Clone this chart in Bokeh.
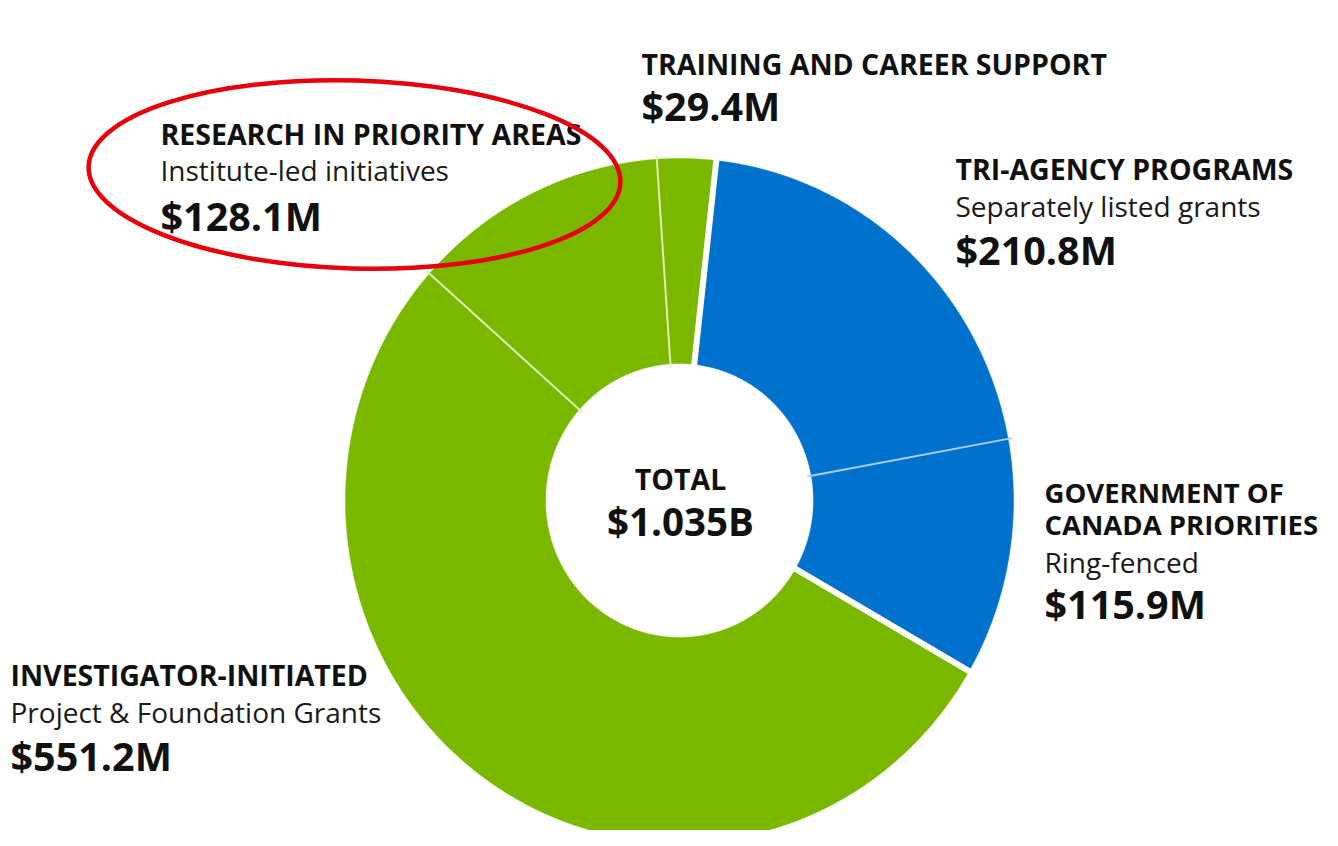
import numpy as np
from bokeh.plotting import figure
from bokeh.models import Range1d, ColumnDataSource
from bokeh.core.properties import value
from bokeh.embed import file_html
from bokeh.resources import INLINE

# ---------------- data ----------------
categories = ["TRAINING AND CAREER SUPPORT", "TRI-AGENCY PROGRAMS",
              "GOVERNMENT OF CANADA PRIORITIES", "INVESTIGATOR-INITIATED",
              "RESEARCH IN PRIORITY AREAS"]
subtitles = ["", "Separately listed grants", "Ring-fenced",
             "Project & Foundation Grants", "Institute-led initiatives"]
values_m = [29.4, 210.8, 115.9, 551.2, 128.1]
groups = ["green", "blue", "blue", "green", "green"]
total_title = "TOTAL"
total_value = "$1.035B"

# ---------------- style / layout ----------------
GREEN = "#7AB800"
BLUE = "#0072CE"
colors = {"green": GREEN, "blue": BLUE}
FONT = value("Open Sans")
INK = "#111111"

W, H = 1322, 830
def Y(yref):  # reference pixel row -> data y
    return 846 - yref

p = figure(width=W, height=H, output_backend="svg", toolbar_location=None,
           x_range=Range1d(0, W), y_range=Range1d(Y(H), Y(0)),
           min_border=0, outline_line_color=None)
p.axis.visible = False
p.grid.visible = False
p.background_fill_color = "white"
p.border_fill_color = "white"

# donut geometry (slightly elliptical like the reference)
cx, cy = 679, Y(500)
R_h, R_v = 334, 342
r_h, r_v = 134, 137
start_deg = -3.9  # clockwise from top

vals = np.array(values_m)
spans = vals / vals.sum() * 360.0
ends = start_deg + np.cumsum(spans)
starts = ends - spans

xs, ys, fills = [], [], []
for s, e, g in zip(starts, ends, groups):
    t = np.radians(np.linspace(s, e, max(8, int((e - s) * 2))))
    ox = cx + R_h * np.sin(t); oy = cy + R_v * np.cos(t)
    ix = cx + r_h * np.sin(t[::-1]); iy = cy + r_v * np.cos(t[::-1])
    xs.append(list(np.concatenate([ox, ix])))
    ys.append(list(np.concatenate([oy, iy])))
    fills.append(colors[g])
p.patches(xs, ys, fill_color=fills, line_color=fills, line_width=0.5)

# separators
for i, b in enumerate(starts):
    prev_g = groups[i - 1]
    cur_g = groups[i]
    t = np.radians(b)
    x0 = cx + (r_h - 4) * np.sin(t); y0 = cy + (r_v - 4) * np.cos(t)
    x1 = cx + (R_h + 4) * np.sin(t); y1 = cy + (R_v + 4) * np.cos(t)
    if prev_g != cur_g:
        col, lw = "white", 6
    elif cur_g == "green":
        col, lw = "#DDEEB8", 2
    else:
        col, lw = "#A9D0F2", 2
    p.segment(x0=[x0], y0=[y0], x1=[x1], y1=[y1], line_color=col, line_width=lw)

# ---------------- labels ----------------
# left x, vertical centres of heading lines, subtitle, value (reference px)
layout = [
    dict(x=641, heads=[63], sub=None, val=105, hs=28.5),
    dict(x=955, heads=[168], sub=205, val=249, hs=28.5),
    dict(x=1044, heads=[492, 524], sub=561, val=603, hs=27.5),
    dict(x=10, heads=[674], sub=711, val=755, hs=28.5),
    dict(x=160, heads=[133], sub=169, val=215, hs=28.5),
]
head_lines = [[categories[0]], [categories[1]],
              ["GOVERNMENT OF", "CANADA PRIORITIES"],
              [categories[3]], [categories[4]]]

def off(fs):  # renderer offset between given y and text centre
    return 0.04 * fs

hx, hy, ht, hf = [], [], [], []
sx, sy, st = [], [], []
vx, vy, vt = [], [], []
for i, lay in enumerate(layout):
    for line, c in zip(head_lines[i], lay["heads"]):
        hx.append(lay["x"]); hy.append(Y(c)); ht.append(line)
        hf.append(f"{lay['hs']}px")
    if subtitles[i]:
        sx.append(lay["x"]); sy.append(Y(lay["sub"])); st.append(subtitles[i])
    vx.append(lay["x"]); vy.append(Y(lay["val"])); vt.append(f"${values_m[i]:.1f}M")

hsrc = ColumnDataSource(dict(x=hx, y=hy, text=ht, fs=hf))
p.text(x="x", y="y", text="text", source=hsrc, text_font=FONT,
       text_font_style="bold", text_font_size="fs", text_color=INK,
       text_align="left", text_baseline="middle")
p.text(x=sx, y=sy, text=st, text_font=FONT, text_font_size="28px",
       text_color="#1a1a1a", text_align="left", text_baseline="middle")
p.text(x=vx, y=vy, text=vt, text_font=FONT, text_font_style="bold",
       text_font_size="39.5px", text_color=INK, text_align="left",
       text_baseline="middle")

p.text(x=[680], y=[Y(478)], text=[total_title], text_font=FONT,
       text_font_style="bold", text_font_size="28.5px", text_color=INK,
       text_align="center", text_baseline="middle")
p.text(x=[680], y=[Y(520)], text=[total_value], text_font=FONT,
       text_font_style="bold", text_font_size="38.5px", text_color=INK,
       text_align="center", text_baseline="middle")

# red highlight ellipse
p.ellipse(x=[354], y=[Y(174)], width=[532], height=[188], angle=-0.03,
          fill_color=None, line_color="#E8000B", line_width=4.5)

open("out.html", "w").write(file_html(p, INLINE))
